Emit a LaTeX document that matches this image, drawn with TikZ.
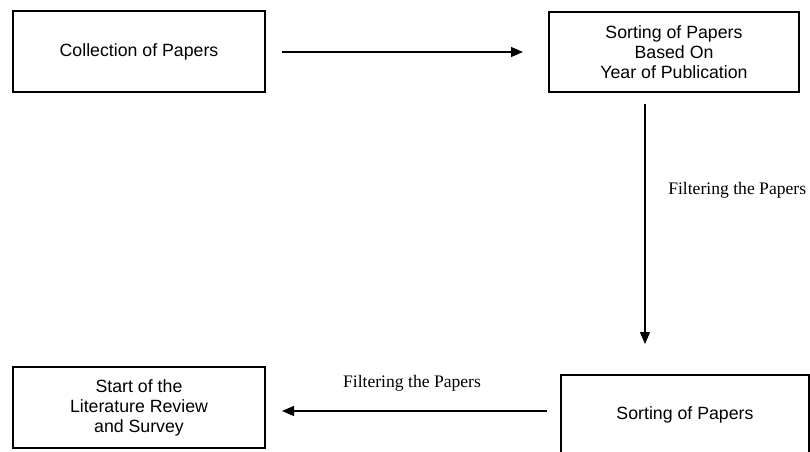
\documentclass[tikz,border=0pt]{standalone}
\usepackage{fontspec}
\setmainfont{Liberation Sans}
\newfontfamily\tnr{Liberation Serif}
\usetikzlibrary{arrows.meta}
\begin{document}
\begin{tikzpicture}[x=0.75pt,y=-0.75pt,
  box/.style={draw, line width=1.5pt, rectangle, align=center, font=\fontsize{13.3pt}{15pt}\selectfont, inner sep=0pt},
  arr/.style={line width=0.9pt, -{Triangle[length=9pt,width=7.5pt]}},
  lbl/.style={font=\tnr\fontsize{13.2pt}{15pt}\selectfont, inner sep=0pt}]
\useasboundingbox (0,0) rectangle (810,452);
\clip (0,0) rectangle (810,452);
\node[box, minimum width=189pt, minimum height=60.75pt] (b1) at (139,52) {Collection of Papers};
\node[box, minimum width=187.5pt, minimum height=60pt] (b2) at (674,52) {Sorting of Papers\\Based On\\Year of Publication};
\node[box, minimum width=186pt, minimum height=60pt] (b3) at (685,415) {Sorting of Papers};
\node[box, minimum width=189pt, minimum height=60.75pt] (b4) at (139,407.5) {Start of the\\Literature Review\\and Survey};
\coordinate (vx) at (645,0);
\coordinate (hy) at (0,411);
\draw[arr, shorten <=12pt, shorten >=18.75pt] (b1.east) -- (b2.west);
\draw[arr, shorten <=8.25pt, shorten >=22.5pt] (b2.south -| vx) -- (b3.north -| vx);
\draw[arr, shorten <=9.75pt, shorten >=12pt] (b3.west |- hy) -- (b4.east |- hy);
\node[lbl, anchor=west] (l1) at (668,190) {Filtering the Papers};
\node[lbl] (l2) at (412,383) {Filtering the Papers};
\end{tikzpicture}
\end{document}
